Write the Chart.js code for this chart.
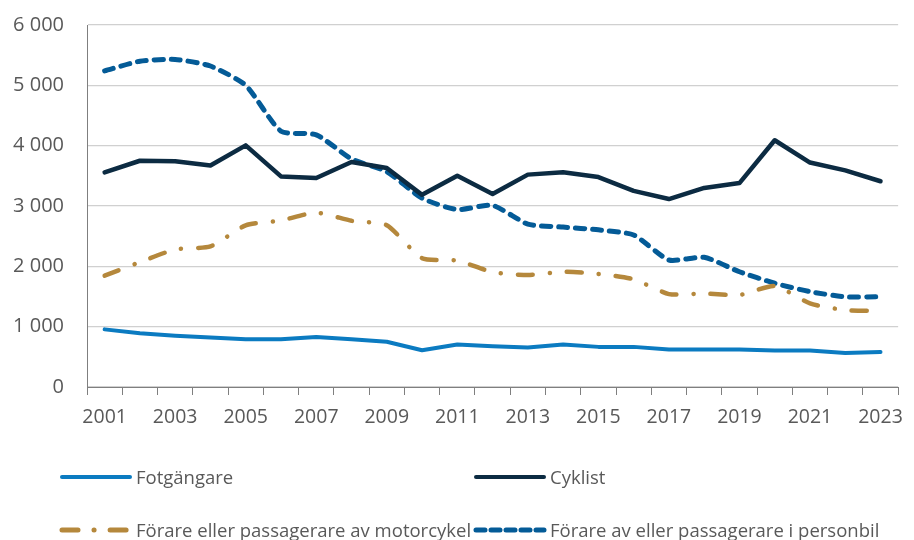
<!DOCTYPE html>
<html lang="sv">
<head>
<meta charset="utf-8">
<title>Skadade per trafikantgrupp 2001–2023</title>
<script src="https://cdn.jsdelivr.net/npm/chart.js@4/dist/chart.umd.min.js"></script>
<style>
  html, body { margin: 0; padding: 0; background: #ffffff; }
  #wrap { position: relative; width: 914px; height: 540px; overflow: hidden; }
  #chart { position: absolute; left: 0; top: 0; }
  .legend-item {
    position: absolute;
    display: flex;
    align-items: center;
    font-family: "Open Sans", sans-serif;
    font-size: 18.5px;
    color: #595959;
    white-space: nowrap;
    line-height: 1;
  }
  .legend-item svg { margin-right: 2px; }
</style>
</head>
<body>
<div id="wrap">
  <canvas id="chart" width="914" height="540"></canvas>
  <div id="legend"></div>
</div>
<script>
const years = ['2001', '2002', '2003', '2004', '2005', '2006', '2007', '2008', '2009', '2010', '2011', '2012',
  '2013', '2014', '2015', '2016', '2017', '2018', '2019', '2020', '2021', '2022', '2023'];

const fotgangare = [955, 890, 850, 820, 790, 790, 830, 790, 750, 610, 705, 675,
  655, 705, 665, 665, 620, 620, 620, 605, 605, 565, 580];
const cyklist = [3557, 3750, 3740, 3670, 4005, 3490, 3465, 3730, 3630, 3185, 3500, 3200,
  3520, 3560, 3480, 3250, 3115, 3300, 3380, 4090, 3720, 3590, 3410];
const motorcykel = [1845, 2070, 2280, 2330, 2680, 2760, 2890, 2755, 2680, 2135, 2095, 1905,
  1855, 1910, 1875, 1785, 1540, 1550, 1525, 1675, 1385, 1275, 1260];
const personbil = [5240, 5400, 5430, 5320, 5000, 4240, 4180, 3780, 3570, 3130, 2940, 3010,
  2700, 2650, 2605, 2520, 2105, 2150, 1910, 1720, 1580, 1495, 1495];

const seriesNames = ['Fotgängare', 'Cyklist', 'Förare eller passagerare av motorcykel', 'Förare av eller passagerare i personbil'];
const yTicks = [0, 1000, 2000, 3000, 4000, 5000, 6000];

const textColor = '#595959';

// legend placement (two columns, two rows like the original)
const legendSlots = [
  { x: 58, y: 477, dash: '', width: 4 },
  { x: 472, y: 477, dash: '', width: 4 },
  { x: 58, y: 530, dash: '16 16 0.1 16', width: 5 },
  { x: 472, y: 530, dash: '9 6', width: 5 }
];

document.addEventListener('DOMContentLoaded', function() {
  drawChart();
});

function formatThousands(v) {
  const s = String(v);
  if (s.length <= 3) return s;
  return s.slice(0, s.length - 3) + ' ' + s.slice(s.length - 3);
}

function drawChart() {
  const ctx = document.getElementById('chart');

  const datasets = [
    {
      label: seriesNames[0],
      data: fotgangare,
      borderColor: '#0b7bc1',
      borderWidth: 4,
      tension: 0,
      borderJoinStyle: 'round',
      borderCapStyle: 'round'
    },
    {
      label: seriesNames[1],
      data: cyklist,
      borderColor: '#0c2b42',
      borderWidth: 4.5,
      tension: 0,
      borderJoinStyle: 'round',
      borderCapStyle: 'round'
    },
    {
      label: seriesNames[2],
      data: motorcykel,
      borderColor: '#b5883c',
      borderWidth: 4.5,
      borderDash: [15, 17, 0.1, 17],
      borderCapStyle: 'round',
      borderJoinStyle: 'round',
      tension: 0.2
    },
    {
      label: seriesNames[3],
      data: personbil,
      borderColor: '#045b97',
      borderWidth: 5,
      borderDash: [9, 8],
      borderCapStyle: 'round',
      borderJoinStyle: 'round',
      tension: 0.2
    }
  ];

  new Chart(ctx, {
    type: 'line',
    data: {
      labels: years,
      datasets: datasets
    },
    options: {
      responsive: false,
      animation: false,
      layout: {
        padding: { left: 0, right: 9, top: 25, bottom: 0 }
      },
      elements: {
        point: { radius: 0, hoverRadius: 0 }
      },
      plugins: {
        legend: { display: false },
        tooltip: { enabled: false }
      },
      scales: {
        x: {
          offset: true,
          grid: {
            offset: true,
            drawOnChartArea: false,
            drawTicks: true,
            tickLength: 8,
            color: '#7f7f7f',
            lineWidth: 1
          },
          border: { display: true, color: '#7f7f7f', width: 1 },
          ticks: {
            autoSkip: false,
            maxRotation: 0,
            padding: 11,
            color: textColor,
            font: { family: 'Open Sans', size: 19.5 },
            callback: function(value, index) {
              return index % 2 === 0 ? years[index] : '';
            }
          },
          afterFit: function(scale) {
            scale.height = 153;
          }
        },
        y: {
          min: 0,
          max: 6000,
          afterBuildTicks: function(scale) {
            scale.ticks = yTicks.map(function(v) { return { value: v }; });
          },
          grid: {
            drawTicks: false,
            color: '#d0d0d0',
            lineWidth: 1.3
          },
          border: { display: true, color: '#7f7f7f', width: 1 },
          ticks: {
            padding: 23,
            color: textColor,
            font: { family: 'Open Sans', size: 20 },
            callback: function(value) {
              return formatThousands(value);
            }
          },
          afterFit: function(scale) {
            scale.width = 87;
            // tick padding is horizontal here, keep it out of the top margin
            scale.paddingTop = 12;
            scale.paddingBottom = 12;
          }
        }
      }
    }
  });

  buildLegend(datasets);
}

function buildLegend(datasets) {
  const legend = document.getElementById('legend');
  datasets.forEach(function(ds, i) {
    const slot = legendSlots[i];
    const item = document.createElement('div');
    item.className = 'legend-item';
    item.style.left = slot.x + 'px';
    item.style.top = (slot.y - 12) + 'px';
    item.style.height = '24px';
    const dash = slot.dash ? ' stroke-dasharray="' + slot.dash + '"' : '';
    item.innerHTML =
      '<svg width="76" height="12"><line x1="4" y1="6" x2="72" y2="6" stroke="' + ds.borderColor +
      '" stroke-width="' + slot.width + '" stroke-linecap="round"' + dash + '/></svg>' +
      '<span>' + ds.label + '</span>';
    legend.appendChild(item);
  });
}
</script>
</body>
</html>
